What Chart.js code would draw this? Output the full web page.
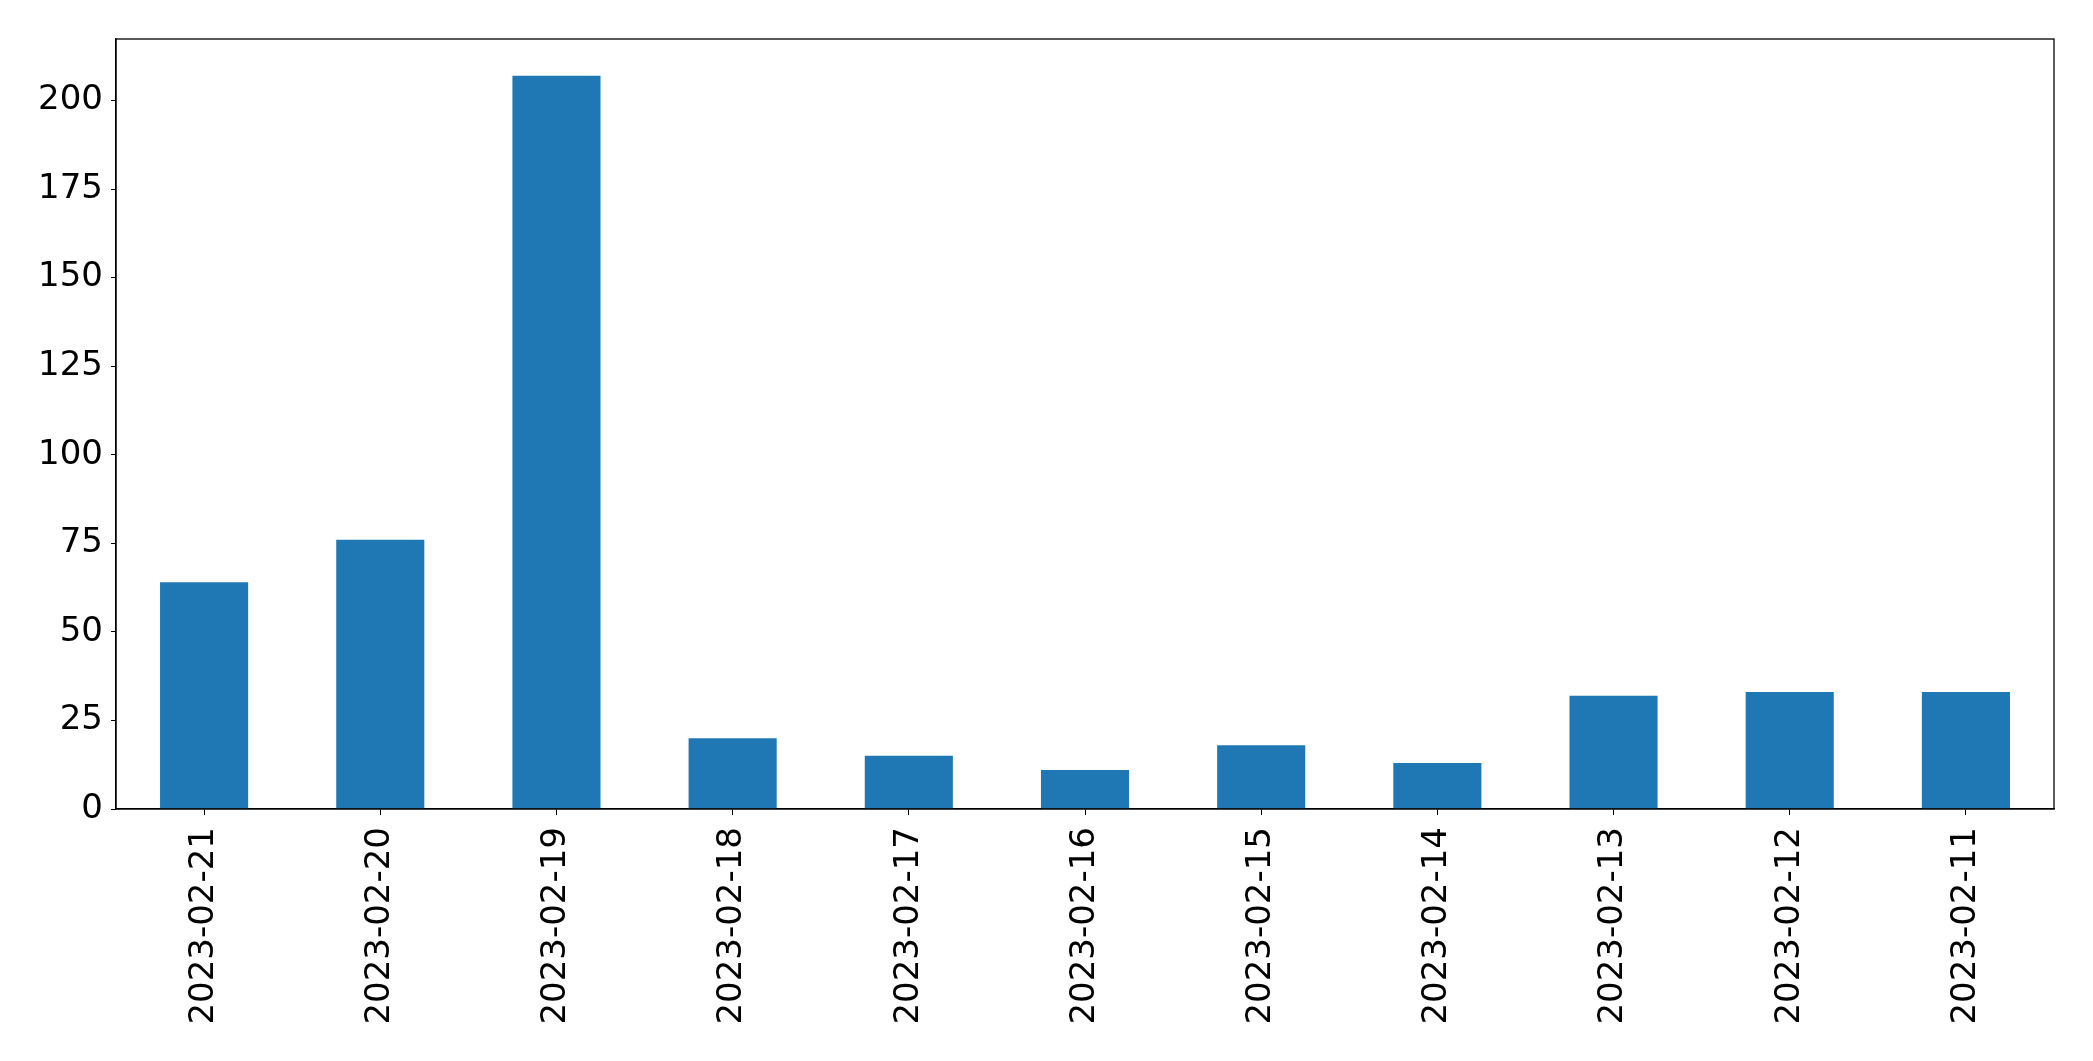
<!DOCTYPE html>
<html>
<head>
<meta charset="utf-8">
<script src="https://cdn.jsdelivr.net/npm/chart.js@4/dist/chart.umd.min.js"></script>
<style>
  html, body { margin: 0; padding: 0; background: #fff; }
  #wrap { width: 2093px; height: 1061px; position: relative; }
</style>
</head>
<body>
<div id="wrap"><canvas id="c" width="2093" height="1061"></canvas></div>
<script>
const categories = ["2023-02-21","2023-02-20","2023-02-19","2023-02-18","2023-02-17","2023-02-16","2023-02-15","2023-02-14","2023-02-13","2023-02-12","2023-02-11"];
const values = [64, 76, 207, 20, 15, 11, 18, 13, 32, 33, 33];
const yTicks = [0, 25, 50, 75, 100, 125, 150, 175, 200];
const yMax = 217.35;

const FONT = { family: "'DejaVu Sans'", size: 34 };

const frame = {
  id: 'frame',
  afterDraw(chart) {
    const a = chart.chartArea, ctx = chart.ctx;
    ctx.save();
    ctx.strokeStyle = '#000';
    ctx.lineWidth = 1.3;
    ctx.strokeRect(a.left, a.top, a.right - a.left, a.bottom - a.top);
    ctx.restore();
  }
};

new Chart(document.getElementById('c'), {
  type: 'bar',
  data: {
    labels: categories,
    datasets: [{
      data: values,
      backgroundColor: '#1f77b4',
      borderWidth: 0,
      barPercentage: 0.5,
      categoryPercentage: 1.0
    }]
  },
  options: {
    responsive: false,
    animation: false,
    devicePixelRatio: 1,
    layout: { padding: { top: 39, right: 39, left: 0, bottom: 0 } },
    plugins: { legend: { display: false }, tooltip: { enabled: false } },
    scales: {
      x: {
        offset: true,
        grid: { display: true, offset: false, drawOnChartArea: false, drawTicks: true, tickLength: 6, color: '#000', tickColor: '#000' },
        border: { display: true, color: '#000', width: 1.3 },
        ticks: { color: '#000', font: FONT, maxRotation: 90, minRotation: 90, padding: 12, autoSkip: false },
        afterFit(s) { s.height = 1061 - 809; }
      },
      y: {
        min: 0,
        max: yMax,
        grid: { display: true, drawOnChartArea: false, drawTicks: true, tickLength: 5, color: '#000', tickColor: '#000' },
        border: { display: true, color: '#000', width: 1.3 },
        ticks: { color: '#000', font: FONT, padding: 8 },
        afterBuildTicks(s) { s.ticks = yTicks.map(v => ({ value: v })); },
        afterFit(s) { s.width = 116; }
      }
    }
  },
  plugins: [frame]
});
</script>
</body>
</html>
